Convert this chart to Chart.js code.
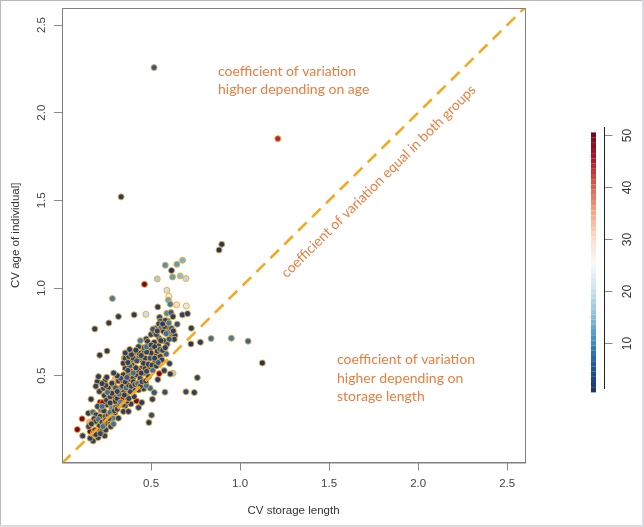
<!DOCTYPE html>
<html>
<head>
<meta charset="utf-8">
<script src="https://cdn.jsdelivr.net/npm/chart.js@4"></script>
<style>
  body { margin: 0; background: #fff; }
  canvas { display: block; }
</style>
</head>
<body>
<canvas id="cvChart" width="644" height="527"></canvas>
<script>
// valeurs
const cvStorage = [
  .517,.332,1.212,.897,.882,.677,.645,.58,.615,.535,
  .621,.664,.696,.463,.589,.6,.597,.608,.644,.698,
  .538,.283,.317,.263,.184,.405,.471,.589,.612,.623,
  .676,.705,.647,.726,.593,.548,.552,.544,.522,.555,
  .6,.57,.608,.634,.63,.6,.568,.5,.52,.473,
  .44,.48,.542,.518,.448,.458,.495,.59,.602,.724,
  .777,.837,.951,1.045,1.125,.212,.253,.35,.546,.623,
  .604,.574,.608,.538,.76,.578,.696,.743,.495,.518,
  .508,.503,.488,.116,.175,.203,.24,.158,.086,.113,
  .154,.158,.176,.176,.2,.227,.246,.274,.289,.21,
  .148,.173,.191,.214,.218,.242,.255,.285,.317,.345,
  .373,.298,.252,.28,.323,.355,.387,.43,.214,.229,
  .163,.21,.238,.27,.266,.289,.298,.34,.364,.418,
  .448,.405,.458,.473,.43,.401,.383,.345,.323,.289,
  .298,.233,.199,.205,.242,.251,.28,.317,.342,.373,
  .345,.373,.398,.417,.439,.458,.486,.448,.387,.4,
  .355,.392,.345,.355,.411,.433,.405,.439,.467,.467,
  .495,.523,.552,.585,.523,.561,.492,.458,.42,.385,
  .375,.18,.19,.205,.225,.24,.26,.27,.235,.2,
  .225,.25,.27,.3,.31,.33,.345,.365,.375,.35,
  .32,.27,.28,.3,.31,.26,.255,.245,.225,.19,
  .34,.36,.375,.39,.4,.355,.33,.31,.29,.365,
  .41,.425,.44,.45,.47,.43,.415,.38,.37,.4,
  .445,.475,.485,.505,.51,.53,.54,.52,.5,.475,
  .46,.475,.5,.52,.535,.55,.565,.58,.57,.545,
  .53,.43,.415,.43,.445,.4,.37,.42,.39,.355,
  .38,.51,.535,.555,.585,.575,.615,.625,.58,.565,
  .6,.15,.165,.185,.19,.215,.23,.245,.265,.295,
  .31
];
const cvAge = [
  2.257,1.52,1.852,1.249,1.217,1.158,1.135,1.13,1.1,1.052,
  1.063,1.069,1.054,1.021,.987,.953,.932,.908,.904,.898,
  .892,.94,.837,.801,.767,.847,.85,.856,.86,.837,
  .847,.854,.794,.771,.812,.833,.812,.795,.769,.771,
  .774,.752,.736,.729,.708,.75,.676,.735,.748,.71,
  .7,.695,.67,.69,.66,.637,.652,.68,.708,.681,
  .691,.712,.714,.697,.573,.617,.641,.6,.512,.514,
  .569,.529,.51,.478,.489,.406,.408,.404,.429,.404,
  .366,.275,.233,.157,.128,.147,.157,.143,.193,.254,
  .235,.182,.21,.172,.187,.187,.191,.21,.225,.214,
  .286,.292,.277,.267,.305,.267,.239,.258,.258,.296,
  .296,.29,.334,.315,.334,.328,.339,.318,.349,.347,
  .366,.41,.387,.411,.381,.381,.353,.368,.381,.356,
  .347,.381,.425,.444,.419,.419,.41,.41,.429,.448,
  .48,.429,.467,.495,.472,.491,.457,.47,.472,.48,
  .505,.51,.486,.505,.486,.514,.495,.543,.524,.565,
  .543,.562,.571,.6,.6,.628,.632,.59,.6,.543,
  .6,.613,.609,.624,.581,.59,.552,.571,.533,.59,
  .61,.255,.24,.25,.235,.225,.275,.29,.3,.325,
  .325,.36,.345,.32,.37,.35,.335,.355,.37,.39,
  .395,.38,.4,.43,.41,.43,.405,.445,.455,.44,
  .44,.43,.445,.44,.465,.465,.485,.5,.515,.49,
  .45,.455,.44,.465,.47,.53,.545,.555,.53,.515,
  .515,.525,.565,.56,.53,.555,.575,.6,.63,.635,
  .66,.665,.675,.665,.64,.65,.645,.66,.7,.715,
  .735,.665,.645,.6,.615,.6,.575,.585,.62,.63,
  .65,.765,.755,.7,.74,.78,.77,.755,.815,.795,
  .8,.21,.225,.19,.165,.17,.21,.245,.255,.3,
  .31
];
const sampleSize = [
  6,2,44,1,1,14,12,11,1,17,
  12,15,19,50,20,27,13,9,30,22,
  2,9,2,2,2,2,20,10,6,2,
  3,2,5,2,7,3,6,3,6,8,
  2,2,9,2,3,8,26,3,2,4,
  9,3,4,2,20,3,5,4,6,1,
  2,8,9,7,1,2,2,2,50,18,
  3,3,2,2,3,5,4,2,7,6,
  3,5,2,3,3,2,3,3,50,50,
  35,50,28,3,2,3,2,2,8,2,
  2,8,3,2,9,6,2,9,2,2,
  2,3,3,10,2,3,2,3,50,50,
  2,3,2,35,50,3,2,48,3,50,
  2,2,3,8,3,2,3,5,10,3,
  34,3,2,2,2,2,2,3,50,3,
  2,2,3,2,3,5,2,3,48,32,
  2,3,2,3,6,2,8,4,3,2,
  5,3,2,7,2,3,2,3,2,8,
  2,3,2,8,3,2,3,8,2,3,
  8,3,2,8,2,9,3,2,3,2,
  8,3,2,6,3,2,8,3,2,3,
  3,8,2,3,2,3,5,2,3,6,
  3,8,2,3,2,3,2,6,3,8,
  2,3,2,3,8,2,6,3,2,3,
  6,8,3,2,3,6,3,2,3,8,
  3,3,2,6,3,2,3,5,2,3,
  2,6,3,2,8,3,6,2,3,2,
  9,3,2,3,2,3,8,3,6,2,
  3
];
const diagonal = [0, 2.6];
const xTicks = [0.5, 1.0, 1.5, 2.0, 2.5];
const yTicks = [0.5, 1.0, 1.5, 2.0, 2.5];
const colorbarTicks = [10, 20, 30, 40, 50];

const xTitle = 'CV storage length';
const yTitle = 'CV age of individual]';
const noteAge = ['coefficient of variation', 'higher depending on age'];
const noteStorage = ['coefficient of variation', 'higher depending on', 'storage length'];
const noteDiagonal = 'coefficient of variation equal in both groups';

// rampe rouge-bleu de la barre de couleur
const ramp = [[27,56,107],[33,90,160],[67,147,195],[146,197,222],[209,229,240],[248,248,248],[253,219,199],[244,165,130],[214,96,77],[178,24,43],[118,10,32]];
function colorFor(v) {
  const t = (v - 1) / 49 * (ramp.length - 1);
  const i = Math.min(Math.floor(t), ramp.length - 2);
  const f = t - i;
  const c = ramp[i].map((a, k) => Math.round(a + (ramp[i + 1][k] - a) * f));
  return `rgb(${c[0]},${c[1]},${c[2]})`;
}

// cadre, notes et barre de couleur
const decorations = {
  id: 'decorations',
  afterDraw(chart) {
    const ctx = chart.ctx;
    const a = chart.chartArea;
    ctx.save();

    // bord gris de l'image
    ctx.strokeStyle = '#b9b9b9';
    ctx.lineWidth = 2;
    ctx.beginPath(); ctx.moveTo(0, 527); ctx.lineTo(0, 0); ctx.lineTo(644, 0); ctx.stroke();
    ctx.strokeStyle = '#dcdcdf';
    ctx.lineWidth = 4;
    ctx.beginPath(); ctx.moveTo(644, 0); ctx.lineTo(644, 527); ctx.lineTo(0, 527); ctx.stroke();

    // cadre du graphique
    ctx.strokeStyle = '#808080';
    ctx.lineWidth = 1;
    ctx.strokeRect(a.left + 0.5, a.top + 0.5, a.right - a.left, a.bottom - a.top);

    // notes
    ctx.fillStyle = '#ea7d3f';
    ctx.font = '14px Lato';
    ctx.textBaseline = 'middle';
    ctx.textAlign = 'left';
    noteAge.forEach((t, i) => ctx.fillText(t, 218, 71 + i * 18.5));
    noteStorage.forEach((t, i) => ctx.fillText(t, 337, 359.5 + i * 18.5));
    ctx.save();
    ctx.translate(378.5, 181.5);
    ctx.rotate(-44.7 * Math.PI / 180);
    ctx.textAlign = 'center';
    ctx.fillText(noteDiagonal, 0, 0);
    ctx.restore();

    // barre de couleur
    const yOf = v => 343 + (10 - v) * 5.2;
    for (let v = 1; v <= 50; v++) {
      ctx.fillStyle = colorFor(v);
      ctx.fillRect(591, yOf(v + 0.5), 5, 5.2);
    }
    ctx.strokeStyle = '#222';
    ctx.beginPath(); ctx.moveTo(604.5, 127); ctx.lineTo(604.5, 389); ctx.stroke();
    ctx.strokeStyle = '#888';
    ctx.fillStyle = '#333';
    ctx.font = '12px "Liberation Sans"';
    ctx.textAlign = 'center';
    colorbarTicks.forEach(v => {
      const y = Math.round(yOf(v)) + 0.5;
      ctx.beginPath(); ctx.moveTo(605, y); ctx.lineTo(612.5, y); ctx.stroke();
      ctx.save();
      ctx.translate(627.5, y);
      ctx.rotate(-Math.PI / 2);
      ctx.fillText(String(v), 0, 0);
      ctx.restore();
    });
    ctx.restore();
  }
};

const axisFont = { family: '"Liberation Sans"', size: 11.5 };
const titleFont = { family: '"Liberation Sans"', size: 11.5 };

new Chart(document.getElementById('cvChart').getContext('2d'), {
  type: 'scatter',
  data: {
    datasets: [
      {
        type: 'line',
        data: diagonal.map(v => ({ x: v, y: v })),
        borderColor: '#f7a823',
        borderWidth: 2.6,
        borderDash: [12, 7.5],
        pointRadius: 0,
        fill: false,
        order: 0
      },
      {
        data: cvStorage.map((x, i) => ({ x: x, y: cvAge[i] })),
        backgroundColor: sampleSize.map(colorFor),
        borderColor: '#f9a825',
        borderWidth: 0.9,
        pointRadius: 3,
        order: 1
      }
    ]
  },
  options: {
    responsive: false,
    animation: false,
    layout: { padding: { left: 0, top: 8, right: 119, bottom: 0 } },
    plugins: { legend: { display: false }, tooltip: { enabled: false } },
    scales: {
      x: {
        type: 'linear',
        min: 0,
        max: 2.6,
        afterBuildTicks: s => { s.ticks = xTicks.map(v => ({ value: v })); },
        afterFit: s => { s.height = 64.5; s.paddingLeft = 0; s.paddingRight = 0; },
        grid: { drawOnChartArea: false, tickLength: 8, tickColor: '#888' },
        border: { color: '#808080' },
        ticks: { font: axisFont, color: '#444', padding: 6, maxRotation: 0, callback: v => v.toFixed(1) },
        title: { display: true, text: xTitle, font: titleFont, color: '#333', padding: { top: 0, bottom: 9 } }
      },
      y: {
        type: 'linear',
        min: 0.005,
        max: 2.597,
        afterBuildTicks: s => { s.ticks = yTicks.map(v => ({ value: v })); },
        afterFit: s => { s.width = 62; s.paddingTop = 0; s.paddingBottom = 0; },
        grid: { drawOnChartArea: false, tickLength: 8, tickColor: '#888' },
        border: { color: '#808080' },
        ticks: { font: axisFont, color: '#444', padding: 4, minRotation: 90, maxRotation: 90, crossAlign: 'center', callback: v => v.toFixed(1) },
        title: { display: true, text: yTitle, font: titleFont, color: '#333', padding: { top: 9, bottom: 0 } }
      }
    }
  },
  plugins: [decorations]
});
</script>
</body>
</html>
